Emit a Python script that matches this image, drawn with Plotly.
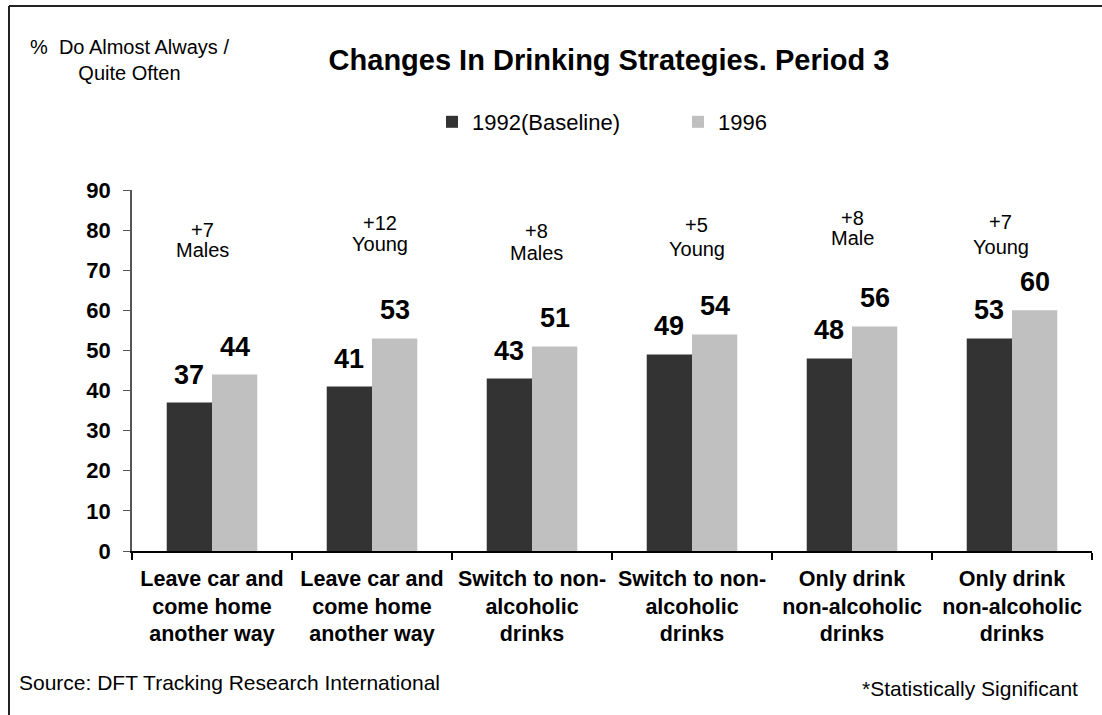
import plotly.graph_objects as go

# Survey results: share of drivers who "do almost always / quite often"
categories = [
    "Leave car and<br>come home<br>another way",
    "Leave car and<br>come home<br>another way",
    "Switch to non-<br>alcoholic<br>drinks",
    "Switch to non-<br>alcoholic<br>drinks",
    "Only drink<br>non-alcoholic<br>drinks",
    "Only drink<br>non-alcoholic<br>drinks",
]
baseline_1992 = [37, 41, 43, 49, 48, 53]
year_1996 = [44, 53, 51, 54, 56, 60]
segments = ["Males", "Young", "Males", "Young", "Male", "Young"]
y_ticks = [0, 10, 20, 30, 40, 50, 60, 70, 80, 90]

DARK = "#333333"
LIGHT = "#C0C0C0"
FONT = "Arial, Liberation Sans, sans-serif"

W, H = 1102, 715
L, R, T, B = 132, 1092, 190, 551  # plot area in pixels


def px_x(x):
    return (x - L) / (R - L)


def px_y(y):
    return (B - y) / (B - T)


xs = list(range(len(categories)))

fig = go.Figure()
fig.add_trace(go.Bar(x=xs, y=baseline_1992, name="1992(Baseline)",
                     marker=dict(color=DARK, line=dict(width=0))))
fig.add_trace(go.Bar(x=xs, y=year_1996, name="1996",
                     marker=dict(color=LIGHT, line=dict(width=0))))

annotations = []
group_w = 1 - 0.434
half = group_w / 4
for i, (a, b) in enumerate(zip(baseline_1992, year_1996)):
    for xv, v in ((i - half, a), (i + half, b)):
        annotations.append(dict(
            x=xv, y=v, xref="x", yref="y", text=str(v), showarrow=False,
            yanchor="bottom", yshift=11,
            font=dict(family=FONT, size=27, color="black", weight="bold")))

# Change from baseline and the segment where it was significant
delta_y = [80.0, 81.7, 79.8, 81.3, 83.1, 82.0]
segment_y = [75.0, 76.5, 74.3, 75.3, 78.0, 75.8]
label_dx = [-0.06, 0.05, 0.03, 0.03, 0.0, -0.07]
for i, (a, b) in enumerate(zip(baseline_1992, year_1996)):
    annotations.append(dict(
        x=i + label_dx[i], y=delta_y[i], xref="x", yref="y",
        text="+%d" % (b - a), showarrow=False, yanchor="middle",
        font=dict(family=FONT, size=20, color="black")))
    annotations.append(dict(
        x=i + label_dx[i], y=segment_y[i], xref="x", yref="y",
        text=segments[i], showarrow=False, yanchor="middle",
        font=dict(family=FONT, size=20, color="black")))

annotations += [
    dict(x=px_x(129), y=px_y(60), xref="paper", yref="paper",
         text="%  Do Almost Always /<br>Quite Often", showarrow=False,
         xanchor="center", yanchor="middle", align="center",
         font=dict(family=FONT, size=20, color="black")),
    dict(x=px_x(17), y=px_y(682), xref="paper", yref="paper",
         text="Source: DFT Tracking Research International", showarrow=False,
         xanchor="left", yanchor="middle",
         font=dict(family=FONT, size=21, color="black")),
    dict(x=px_x(1080), y=px_y(688), xref="paper", yref="paper",
         text="*Statistically Significant", showarrow=False,
         xanchor="right", yanchor="middle",
         font=dict(family=FONT, size=21, color="black")),
]

shapes = [
    dict(type="line", xref="paper", yref="paper",
         x0=px_x(9), x1=px_x(W + 10), y0=px_y(6), y1=px_y(6),
         line=dict(color="#222222", width=2)),
    dict(type="line", xref="paper", yref="paper",
         x0=px_x(9), x1=px_x(9), y0=px_y(6), y1=px_y(H + 10),
         line=dict(color="#222222", width=2)),
]

fig.update_layout(
    width=W, height=H,
    margin=dict(l=L, r=W - R, t=T, b=H - B, pad=0),
    paper_bgcolor="white", plot_bgcolor="white",
    barmode="group", bargap=0.434, bargroupgap=0,
    title=dict(text="<b>Changes In Drinking Strategies. Period 3</b>",
               x=609 / W, xanchor="center", y=1 - 60 / H, yanchor="middle",
               xref="container", yref="container",
               font=dict(family=FONT, size=29, color="black")),
    legend=dict(orientation="h", x=px_x(432), xanchor="left",
                y=px_y(122), yanchor="middle", entrywidth=201,
                entrywidthmode="pixels",
                font=dict(family=FONT, size=22, color="black"),
                bgcolor="rgba(0,0,0,0)", itemclick=False),
    xaxis=dict(range=[-0.5, len(categories) - 0.5], tickmode="array",
               tickvals=xs, ticktext=categories, ticks="",
               showline=True, linecolor="black", linewidth=1.5,
               showgrid=False, zeroline=False, ticklabelstandoff=7,
               tickfont=dict(family=FONT, size=21.5, color="black", weight="bold"),
               minor=dict(tickmode="array",
                          tickvals=[i - 0.5 for i in range(len(categories) + 1)],
                          ticks="outside", ticklen=7, tickcolor="black",
                          tickwidth=1.5, showgrid=False)),
    yaxis=dict(range=[0, 90], tickmode="array", tickvals=y_ticks,
               ticks="outside", ticklen=7, tickcolor="#555555",
               showline=True, linecolor="#555555", linewidth=1.5,
               showgrid=False, zeroline=False, ticklabelstandoff=8,
               tickfont=dict(family=FONT, size=22, color="black", weight="bold")),
    annotations=annotations,
    shapes=shapes,
)

fig.write_html("out.html")
